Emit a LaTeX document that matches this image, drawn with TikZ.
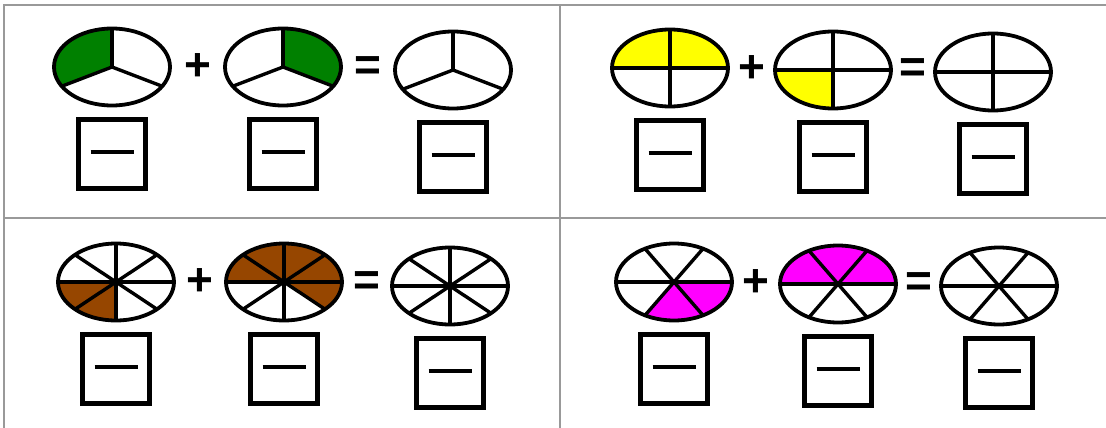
\documentclass[tikz,border=0pt]{standalone}
\usepackage{fontspec}
\setmainfont{Liberation Sans}
\usepackage{xcolor}
\usepackage{tikz}
\usetikzlibrary{shapes.geometric, positioning, calc, backgrounds}

\definecolor{leafgreen}{RGB}{0,128,0}
\definecolor{sunyellow}{RGB}{255,255,0}
\definecolor{rustbrown}{RGB}{150,70,0}
\definecolor{brightmagenta}{RGB}{255,0,255}

\begin{document}
\begin{tikzpicture}[
    x=1pt, y=1pt,
    pie/.style={ellipse, draw, line width=3.8pt, minimum width=116pt, minimum height=77pt, inner sep=0pt},
    spoke/.style={line width=3.4pt},
    answer/.style={rectangle, draw, line width=4.2pt, minimum width=67pt, minimum height=69pt, inner sep=0pt},
    bar/.style={line width=3.4pt},
    sign/.style={font=\fontsize{46}{46}\selectfont\bfseries, inner sep=0pt},
    divider/.style={black!40, line width=2pt},
]
\useasboundingbox (0,0) rectangle (1106,-428);

% Panel 1: thirds
\node[pie] (tl1) at (112,-67) {};
\node[pie] (tl2) at (283,-67) {};
\node[pie] (tl3) at (453,-70) {};
\node[sign] (tlplus) at ($(tl1.east)!.5!(tl2.west)$) {+};
\node[sign] (tleq) at ($(tl2.east)!.5!(tl3.west)$) {=};

% Panel 2: quarters
\node[pie] (tr1) at (670,-68) {};
\node[pie] (tr2) at (833,-70) {};
\node[pie] (tr3) at (993,-72) {};
\node[sign] (trplus) at ($(tr1.east)!.5!(tr2.west)$) {+};
\node[sign] (treq) at ($(tr2.east)!.5!(tr3.west)$) {=};

% Panel 3: eighths
\node[pie] (bl1) at (116,-282) {};
\node[pie] (bl2) at (284,-282) {};
\node[pie] (bl3) at (450,-286) {};
\node[sign] (blplus) at ($(bl1.east)!.5!(bl2.west)$) {+};
\node[sign] (bleq) at ($(bl2.east)!.5!(bl3.west)$) {=};

% Panel 4: sixths
\node[pie] (br1) at (674,-282) {};
\node[pie] (br2) at (838,-284) {};
\node[pie] (br3) at (999,-286) {};
\node[sign] (brplus) at ($(br1.east)!.5!(br2.west)$) {+};
\node[sign] (breq) at ($(br2.east)!.5!(br3.west)$) {=};

% answer boxes
\node[answer, below=10pt of tl1] (tlb1) {};
\node[answer, below=10pt of tl2] (tlb2) {};
\node[answer, below=10pt of tl3] (tlb3) {};
\node[answer, below=10pt of tr1] (trb1) {};
\node[answer, below=10pt of tr2] (trb2) {};
\node[answer, below=10pt of tr3] (trb3) {};
\node[answer, below=10pt of bl1] (blb1) {};
\node[answer, below=10pt of bl2] (blb2) {};
\node[answer, below=10pt of bl3] (blb3) {};
\node[answer, below=10pt of br1] (brb1) {};
\node[answer, below=10pt of br2] (brb2) {};
\node[answer, below=10pt of br3] (brb3) {};
\foreach \b in {tlb1,tlb2,tlb3,trb1,trb2,trb3,blb1,blb2,blb3,brb1,brb2,brb3}
    \draw[bar] ([xshift=-21.5pt, yshift=2pt]\b.center) -- ([xshift=21.5pt, yshift=2pt]\b.center);

% spokes
\foreach \p in {tl1,tl2,tl3}
    \foreach \a in {90,210,330}
        \draw[spoke] (\p.center) -- ++(\a:58pt and 38.5pt);
\foreach \p in {tr1,tr2,tr3}
    \foreach \a in {0,90,180,270}
        \draw[spoke] (\p.center) -- ++(\a:58pt and 38.5pt);
\foreach \p in {bl1,bl2,bl3}
    \foreach \a in {0,45,...,315}
        \draw[spoke] (\p.center) -- ++(\a:58pt and 38.5pt);
\foreach \p in {br1,br2,br3}
    \foreach \a in {0,60,...,300}
        \draw[spoke] (\p.center) -- ++(\a:58pt and 38.5pt);

% shaded parts
\begin{scope}[on background layer]
\fill[white] (0,0) rectangle (1106,-428);
\foreach \p/\col/\s/\e in {tl1/leafgreen/90/210, tl2/leafgreen/-30/90,
        tr1/sunyellow/0/180, tr2/sunyellow/180/270,
        bl1/rustbrown/180/270, bl2/rustbrown/-45/180,
        br1/brightmagenta/240/360, br2/brightmagenta/0/180}
    \fill[\col] (\p.center) -- ++(\s:58pt and 38.5pt)
        arc[start angle=\s, end angle=\e, x radius=58pt, y radius=38.5pt] -- cycle;
\end{scope}

% grid
\coordinate (topleft) at (4,-5);
\coordinate (topright) at (1106,-5);
\coordinate (botleft) at (4,-428);
\coordinate (midtop) at (560,-5);
\coordinate (midbot) at (560,-428);
\coordinate (midleft) at (4,-218);
\coordinate (midright) at (1106,-218);
\draw[divider] (botleft) -- (topleft) -- (topright);
\draw[divider] (midtop) -- (midbot);
\draw[divider] (midleft) -- (midright);

\end{tikzpicture}
\end{document}
